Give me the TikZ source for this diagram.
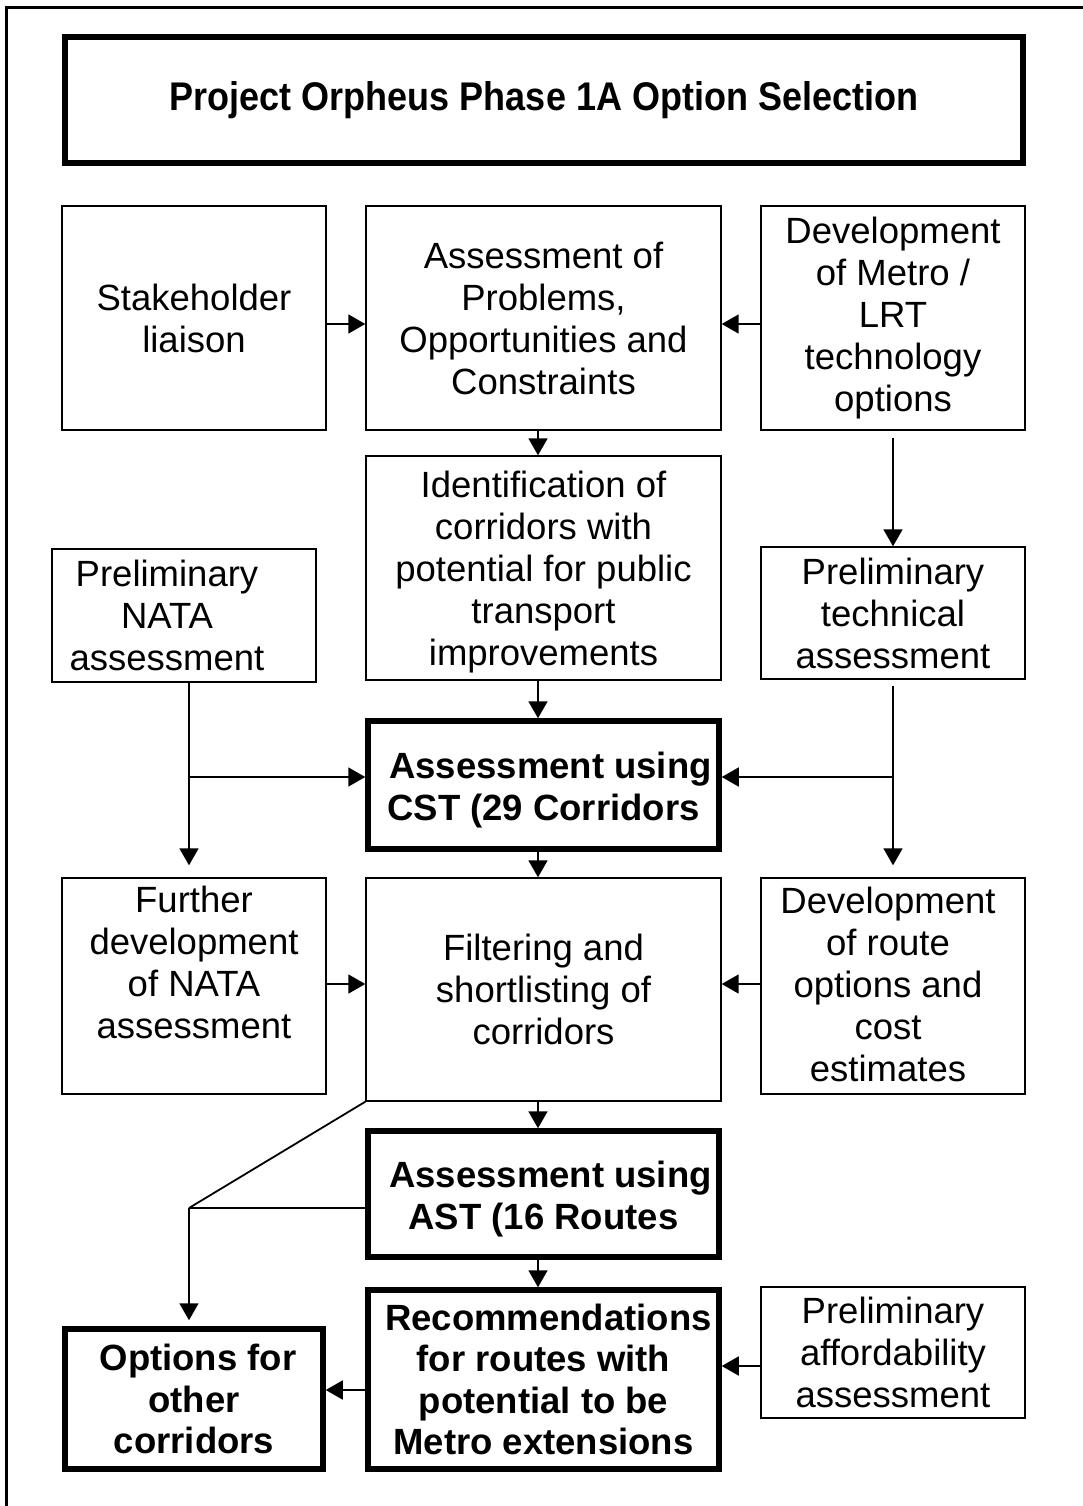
\documentclass[tikz,border=0pt]{standalone}
\usepackage{fontspec}
\setmainfont{Liberation Sans}
\newfontfamily\titlefont[FakeStretch=0.9]{Liberation Sans}
\usetikzlibrary{arrows.meta}
\begin{document}
\begin{tikzpicture}[
  x=1pt, y=-1pt,
  plaintxt/.style={inner sep=0pt, align=center, font=\fontsize{36.5}{42}\selectfont},
  boldtxt/.style={inner sep=0pt, align=center, font=\fontsize{36.5}{41.5}\selectfont\bfseries},
  thinbox/.style={plaintxt, draw, line width=1.4pt},
  thickbox/.style={boldtxt, draw, line width=5.5pt},
  conn/.style={line width=1.8pt},
  arr/.style={conn, -{Triangle[length=17pt,width=19pt]}},
]
\useasboundingbox (0,0) rectangle (1083,1506);
\fill[white] (0,0) rectangle (1083,1506);
% outer frame
\draw[line width=3pt] (6,1510) -- (6,8) -- (1090,8);

% title
\node[draw, line width=5.5pt, minimum width=958, minimum height=126, inner sep=0pt,
  font=\titlefont\bfseries\fontsize{40}{44}\selectfont] (title) at (544,100)
  {Project Orpheus Phase 1A Option Selection};

% boxes
\node[thinbox, minimum width=264, minimum height=224] (stake) at (194,318)
  {Stakeholder\\liaison};
\node[thinbox, minimum width=355, minimum height=224] (assess) at (543.5,318)
  {Assessment of\\Problems,\\Opportunities and\\Constraints};
\node[thinbox, minimum width=264, minimum height=224] (devmetro) at (893,318)
  {Development\\of Metro /\\LRT\\technology\\options};
\node[thinbox, minimum width=355, minimum height=224] (ident) at (543.5,568) {};
\node[plaintxt] (identt) at ([yshift=-4pt]ident.center)
  {Identification of\\corridors with\\potential for public\\transport\\improvements};
\node[thinbox, minimum width=264, minimum height=133] (pnata) at (184,615.5) {};
\node[plaintxt] (pnatat) at ([xshift=-17pt]pnata.center)
  {Preliminary\\NATA\\assessment};
\node[thinbox, minimum width=264, minimum height=132] (ptech) at (893,613)
  {Preliminary\\technical\\assessment};
\node[thickbox, minimum width=351, minimum height=128] (cst) at (543.5,785) {};
\node[boldtxt] (cstt) at ([yshift=-5pt]cst.center)
  {\hspace*{14pt}Assessment using\\CST (29 Corridors};
\node[thinbox, minimum width=264, minimum height=216] (further) at (194,986) {};
\node[plaintxt] (furthert) at ([yshift=24pt]further.center)
  {Further\\development\\of NATA\\assessment};
\node[thinbox, minimum width=355, minimum height=223] (filter) at (543.5,989.5)
  {Filtering and\\shortlisting of\\corridors};
\node[thinbox, minimum width=264, minimum height=216] (devroute) at (893,986) {};
\node[plaintxt] (devroutet) at ([xshift=-5pt,yshift=2pt]devroute.center)
  {Development\\of route\\options and\\cost\\estimates};
\node[thickbox, minimum width=351, minimum height=126] (ast) at (543.5,1194) {};
\node[boldtxt] (astt) at ([yshift=-5pt]ast.center)
  {\hspace*{14pt}Assessment using\\AST (16 Routes};
\node[thickbox, minimum width=351, minimum height=179] (rec) at (543.5,1379.5)
  {\hspace*{10pt}Recommendations\\for routes with\\potential to be\\Metro extensions};
\node[thickbox, minimum width=258, minimum height=140] (opts) at (194,1399)
  {\hspace*{8pt}Options for\\other\\corridors};
\node[thinbox, minimum width=264, minimum height=131] (afford) at (893,1352.5)
  {Preliminary\\affordability\\assessment};

% helper coordinates
\coordinate (xc) at (538,0);
\coordinate (xl) at (189,0);
\coordinate (xr) at (893,0);
\coordinate (y1) at (0,324);
\coordinate (y2) at (0,984);
\coordinate (y3) at (0,1390);
\coordinate (y4) at (0,1366);
\coordinate (jl) at (189,777);
\coordinate (jr) at (893,777);
\coordinate (jb) at (189,1208);

% connectors
\draw[arr] (stake.east |- y1) -- (assess.west |- y1);
\draw[arr] (devmetro.west |- y1) -- (assess.east |- y1);
\draw[arr] (assess.south -| xc) -- (ident.north -| xc);
\draw[arr, shorten <=7pt] (devmetro.south -| xr) -- (ptech.north -| xr);
\draw[arr] (ident.south -| xc) -- (cst.north -| xc);

\draw[arr, shorten >=12pt] (pnata.south -| xl) -- (further.north -| xl);
\draw[arr] (jl) -- (cst.west |- jl);
\draw[arr, shorten <=6pt, shorten >=12pt] (ptech.south -| xr) -- (devroute.north -| xr);
\draw[arr] (jr) -- (cst.east |- jr);

\draw[arr] (cst.south -| xc) -- (filter.north -| xc);
\draw[arr] (further.east |- y2) -- (filter.west |- y2);
\draw[arr] (devroute.west |- y2) -- (filter.east |- y2);
\draw[arr] (filter.south -| xc) -- (ast.north -| xc);

\draw[conn] (filter.south west) -- (jb);
\draw[conn] (ast.west |- jb) -- (jb);
\draw[arr, shorten >=6pt] (jb) -- (opts.north -| jb);

\draw[arr] (ast.south -| xc) -- (rec.north -| xc);
\draw[arr] (rec.west |- y3) -- (opts.east |- y3);
\draw[arr] (afford.west |- y4) -- (rec.east |- y4);
\end{tikzpicture}
\end{document}
